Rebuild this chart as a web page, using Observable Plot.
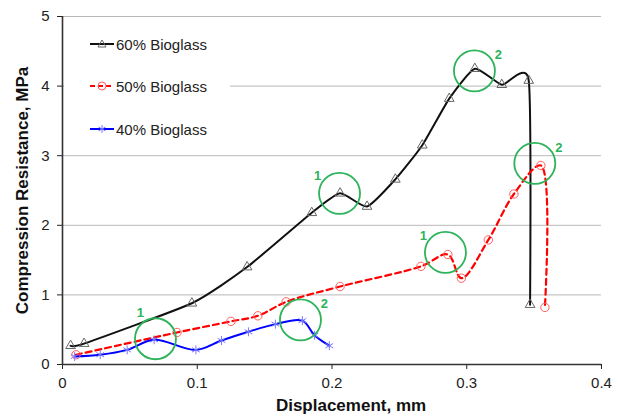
<!DOCTYPE html>
<html>
<head>
<meta charset="utf-8">
<script src="https://cdn.jsdelivr.net/npm/d3@7"></script>
<script src="https://cdn.jsdelivr.net/npm/@observablehq/plot@0.6"></script>
<style>
  html, body { margin: 0; padding: 0; background: #fff; }
  #wrap { position: relative; width: 619px; height: 417px; font-family: "Liberation Sans", Arial, sans-serif; }
  #legend { position: absolute; left: 64px; top: 24px; width: 166px; height: 124px; background: #fff; }
  .row { position: absolute; left: 26px; height: 18px; display: flex; align-items: center; font-size: 15px; color: #222; }
  .row svg { margin-right: 2px; }
</style>
</head>
<body>
<div id="wrap"></div>
<script>
// ---- data ----
const seriesNames = ["60% Bioglass", "50% Bioglass", "40% Bioglass"];

const x60 = [0.006, 0.016, 0.096, 0.137, 0.185, 0.206, 0.226, 0.247, 0.267, 0.287, 0.306, 0.326, 0.346, 0.347];
const y60 = [0.27, 0.30, 0.88, 1.40, 2.18, 2.46, 2.27, 2.66, 3.15, 3.82, 4.25, 4.02, 4.08, 0.86];

const x50 = [0.010, 0.085, 0.125, 0.145, 0.166, 0.206, 0.266, 0.286, 0.296, 0.316, 0.335, 0.355, 0.358];
const y50 = [0.14, 0.46, 0.62, 0.70, 0.90, 1.12, 1.41, 1.58, 1.24, 1.79, 2.45, 2.86, 0.82];

const x40 = [0.009, 0.028, 0.048, 0.068, 0.099, 0.118, 0.138, 0.158, 0.178, 0.187, 0.198];
const y40 = [0.115, 0.14, 0.21, 0.355, 0.21, 0.345, 0.47, 0.58, 0.63, 0.42, 0.27];

// annotation circles (green) and their labels
const annX = [0.2056, 0.3057, 0.2842, 0.3505, 0.069, 0.1766];
const annY = [2.46, 4.22, 1.61, 2.89, 0.37, 0.64];
const annLabel = ["1", "2", "1", "2", "1", "2"];
const annSide = ["left", "right", "left", "right", "top", "right"];

const xTicks = [0, 0.1, 0.2, 0.3, 0.4];
const yTicks = [0, 1, 2, 3, 4, 5];
const xTitle = "Displacement, mm";
const yTitle = "Compression Resistance, MPa";

// ---- build ----
const toRows = (xs, ys) => xs.map((x, i) => ({x, y: ys[i]}));
const d60 = toRows(x60, y60), d50 = toRows(x50, y50), d40 = toRows(x40, y40);
const ann = annX.map((x, i) => ({x, y: annY[i], label: annLabel[i], side: annSide[i]}));
const GREEN = "#2db35a";
const offs = {left: [-22, -17], right: [24, -16], top: [-15, -26]};

const chart = Plot.plot({
  width: 619, height: 417,
  marginLeft: 62, marginRight: 18, marginTop: 16, marginBottom: 53,
  style: {fontFamily: "Liberation Sans, Arial, sans-serif", fontSize: "15px", color: "#222", background: "#fff"},
  x: {domain: [0, 0.4]},
  y: {domain: [0, 5]},
  marks: [
    Plot.gridY(yTicks.filter(d => d > 0), {stroke: "#b8b8b8", strokeOpacity: 1, strokeWidth: 1}),
    Plot.axisX(xTicks, {tickSize: 5, tickPadding: 8, label: null, fontSize: 15, tickFormat: d => d === 0 ? "0" : String(d)}),
    Plot.axisY(yTicks, {tickSize: 5, tickPadding: 8, label: null, fontSize: 15, tickFormat: d => String(d)}),
    Plot.ruleX([0], {stroke: "#333", strokeWidth: 1.6}),
    Plot.ruleY([0], {stroke: "#333", strokeWidth: 1.6}),
    // series
    Plot.line(d60, {x: "x", y: "y", curve: d3.curveCardinal.tension(0.45), stroke: "#111", strokeWidth: 2}),
    Plot.line(d50, {x: "x", y: "y", curve: "catmull-rom", stroke: "#ff0000", strokeWidth: 2.2, strokeDasharray: "6,4"}),
    Plot.line(d40, {x: "x", y: "y", curve: "catmull-rom", stroke: "#0000ff", strokeWidth: 2}),
    Plot.dot(d60, {x: "x", y: "y", symbol: "triangle", r: 3.6, stroke: "#666", fill: "none", strokeWidth: 1}),
    Plot.dot(d50, {x: "x", y: "y", symbol: "circle", r: 4.2, stroke: "#ff6060", fill: "none", strokeWidth: 1}),
    Plot.dot(d40, {x: "x", y: "y", symbol: "asterisk", r: 4.2, stroke: "#7a7aff", strokeWidth: 1}),
    // annotations
    Plot.dot(ann, {x: "x", y: "y", r: 20.5, stroke: GREEN, fill: "none", strokeWidth: 1.8}),
    ...Object.keys(offs).map(side => Plot.text(ann.filter(a => a.side === side), {
      x: "x", y: "y", text: "label", dx: offs[side][0], dy: offs[side][1],
      fill: GREEN, fontWeight: "bold", fontSize: 13
    })),
    // axis titles
    Plot.text([xTitle], {frameAnchor: "bottom", dx: 19, dy: 41, fontWeight: "bold", fontSize: 17, fill: "#111", lineAnchor: "middle", textAnchor: "middle"}),
    Plot.text([yTitle], {frameAnchor: "left", dx: -40, rotate: -90, fontWeight: "bold", fontSize: 17, fill: "#111", lineAnchor: "middle", textAnchor: "middle"})
  ]
});

const wrap = document.getElementById("wrap");
wrap.appendChild(chart);

// legend overlay (inside plot area, white box)
const legend = document.createElement("div");
legend.id = "legend";
const sw = [
  `<line x1="0" y1="7" x2="24" y2="7" stroke="#111" stroke-width="2"/><path d="M12,3 L16,10 L8,10 Z" fill="none" stroke="#666" stroke-width="1"/>`,
  `<line x1="0" y1="7" x2="24" y2="7" stroke="#ff0000" stroke-width="2" stroke-dasharray="5,3"/><circle cx="12" cy="7" r="4" fill="none" stroke="#ff6060" stroke-width="1"/>`,
  `<line x1="0" y1="7" x2="24" y2="7" stroke="#0000ff" stroke-width="2"/><path d="M12,3 V11 M8.5,5 L15.5,9 M8.5,9 L15.5,5" stroke="#7a7aff" stroke-width="1"/>`
];
const rowTops = [11, 53, 96];
seriesNames.forEach((name, i) => {
  const r = document.createElement("div");
  r.className = "row";
  r.style.top = rowTops[i] + "px";
  r.innerHTML = `<svg width="24" height="14">${sw[i]}</svg><span>${name}</span>`;
  legend.appendChild(r);
});
wrap.appendChild(legend);
</script>
</body>
</html>
